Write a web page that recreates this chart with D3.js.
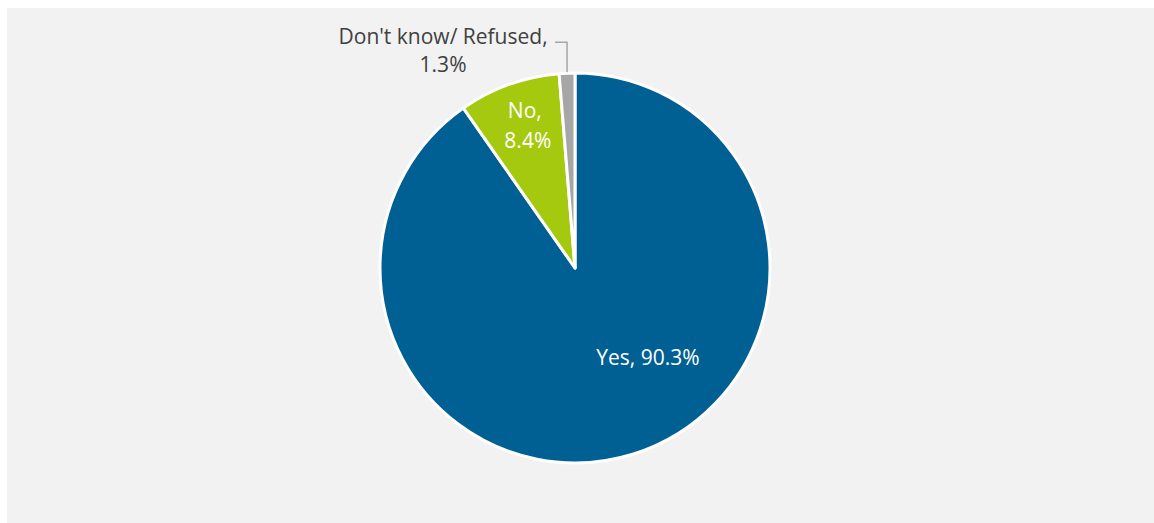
<!DOCTYPE html>
<html>
<head>
<meta charset="utf-8">
<script src="https://cdn.jsdelivr.net/npm/d3@7"></script>
<style>
  html, body { margin: 0; padding: 0; background: #ffffff; }
  svg { display: block; }
  text { font-family: "Open Sans", "Liberation Sans", sans-serif; }
</style>
</head>
<body>
<svg id="chart" width="1154" height="523"></svg>
<script>
// Survey responses
const categories = ["Yes", "No", "Don't know/ Refused"];
const values = [90.3, 8.4, 1.3];
const valueLabels = ["90.3%", "8.4%", "1.3%"];

const colors = ["#005f93", "#a5c90f", "#a6a6a6"];

const width = 1154, height = 523;
const cx = 575, cy = 268, radius = 195;
const fontSize = 21;

const svg = d3.select("#chart");

// panel background
svg.append("rect")
  .attr("x", 7).attr("y", 8)
  .attr("width", width - 7).attr("height", height - 8)
  .attr("fill", "#f2f2f2");

const data = categories.map((c, i) => ({ name: c, value: values[i], label: valueLabels[i], color: colors[i] }));

const pie = d3.pie().value(d => d.value).sort(null);
const arcs = pie(data);
const arc = d3.arc().innerRadius(0).outerRadius(radius);

const g = svg.append("g").attr("transform", `translate(${cx},${cy})`);

g.selectAll("path.slice")
  .data(arcs)
  .join("path")
  .attr("class", "slice")
  .attr("d", arc)
  .attr("fill", d => d.data.color)
  .attr("stroke", "#ffffff")
  .attr("stroke-width", 3)
  .attr("stroke-linejoin", "round");

// polar helper: angle measured clockwise from 12 o'clock
function polar(angleRad, r) {
  return [Math.sin(angleRad) * r, -Math.cos(angleRad) * r];
}
const mid = d => (d.startAngle + d.endAngle) / 2;

// Yes: single line inside
{
  const d = arcs[0];
  const [x, y] = polar(mid(d) - 21.9 * Math.PI / 180, radius * 0.59);
  g.append("text")
    .attr("x", x).attr("y", y)
    .attr("text-anchor", "middle")
    .attr("dominant-baseline", "central")
    .attr("fill", "#ffffff")
    .attr("font-size", fontSize)
    .text(`${d.data.name}, ${d.data.label}`);
}

// No: two lines inside
{
  const d = arcs[1];
  const [x, y] = polar(mid(d) + 1.2 * Math.PI / 180, radius * 0.775);
  const t = g.append("text")
    .attr("text-anchor", "middle")
    .attr("fill", "#ffffff")
    .attr("font-size", fontSize);
  t.append("tspan").attr("x", x - 2).attr("y", y - 15).attr("dominant-baseline", "central").text(`${d.data.name},`);
  t.append("tspan").attr("x", x + 1).attr("y", y + 15).attr("dominant-baseline", "central").text(d.data.label);
}

// Don't know: outside with leader line
{
  const d = arcs[2];
  const [ex, ey] = polar(mid(d), radius);
  const elbowY = ey - 31;
  const lineStartX = ex - 12;
  g.append("path")
    .attr("d", `M${ex},${ey - 1}V${elbowY}H${lineStartX}`)
    .attr("fill", "none")
    .attr("stroke", "#a6a6a6")
    .attr("stroke-width", 1.5);
  const tx = lineStartX - 112;
  const t = g.append("text")
    .attr("text-anchor", "middle")
    .attr("fill", "#404040")
    .attr("font-size", fontSize);
  t.append("tspan").attr("x", tx).attr("y", elbowY - 6).attr("dominant-baseline", "central").text(`${d.data.name},`);
  t.append("tspan").attr("x", tx).attr("y", elbowY + 22).attr("dominant-baseline", "central").text(d.data.label);
}
</script>
</body>
</html>
